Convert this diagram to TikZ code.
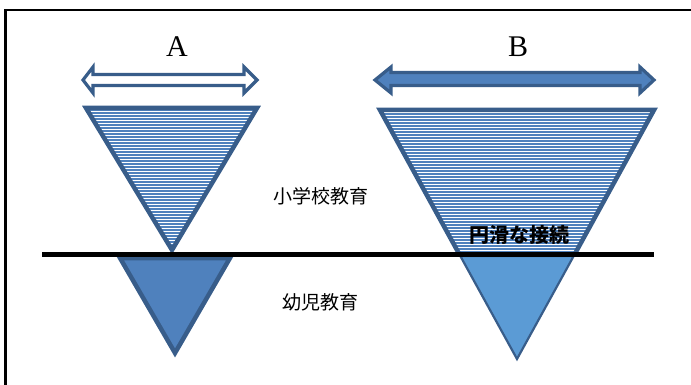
\documentclass[tikz,border=0pt]{standalone}
\usepackage{fontspec}
\setmainfont{Liberation Serif}
\newfontfamily\cjk{Noto Sans CJK JP}
\definecolor{dkblue}{HTML}{385D8A}
\definecolor{midblue}{HTML}{4F81BD}
\definecolor{ltblue}{HTML}{5B9BD5}
\begin{document}
\begin{tikzpicture}[x=1pt,y=-1pt,
  outl/.style={draw=dkblue, line width=4.5pt, line join=miter},
  thinoutl/.style={draw=dkblue, line width=2.2pt, line join=miter},
  stripe/.style={draw=midblue, line width=1.5pt},
  arrowshape/.style={draw=dkblue, line width=3.2pt, line join=miter},
  lbl/.style={inner sep=0pt, font=\fontsize{30}{32}\selectfont},
  jp/.style={inner sep=0pt, font=\cjk\fontsize{19}{21}\selectfont},
  jpb/.style={inner sep=0pt, font=\cjk\bfseries\fontsize{20}{22}\selectfont}]
\useasboundingbox (0,0) rectangle (691,385);
% frame
\coordinate (F1) at (5.5,385);
\coordinate (F2) at (5.5,10);
\coordinate (F3) at (691,10);
\draw[line width=2.5pt] (F1) -- (F2) -- (F3);
% labels
\node[lbl] (labA) at (177,47) {A};
\node[lbl] (labB) at (518,47) {B};
% arrow A (outlined)
\draw[arrowshape, fill=white] (83,80) -- (93,67) -- (93,74.5) -- (244,74.5) -- (244,67) -- (257,80) -- (244,93) -- (244,85.5) -- (93,85.5) -- (93,93) -- cycle;
% arrow B (filled)
\draw[arrowshape, fill=midblue] (375,80) -- (391,67) -- (391,72.5) -- (640,72.5) -- (640,67) -- (654,80) -- (640,93) -- (640,85.5) -- (391,85.5) -- (391,93) -- cycle;
% upper A hatched triangle
\begin{scope}
  \clip (86,108) -- (257,108) -- (172,250) -- cycle;
  \foreach \yy in {110,113,...,254} \draw[stripe] (80,\yy) -- (262,\yy);
\end{scope}
\draw[outl] (86,108) -- (257,108) -- (172,250) -- cycle;
% upper B hatched trapezoid
\begin{scope}
  \clip (459.2,254) -- (380,110) -- (654,110) -- (574.8,254) -- cycle;
  \foreach \yy in {111,114,...,254} \draw[stripe] (375,\yy) -- (660,\yy);
\end{scope}
\draw[outl] (459.2,254) -- (380,110) -- (654,110) -- (574.8,254);
% lower A triangle
\draw[outl, fill=midblue] (120,258) -- (230,258) -- (175,353) -- cycle;
% lower B triangle
\draw[thinoutl, fill=ltblue] (460.3,256) -- (573.7,256) -- (517,359) -- cycle;
% black line
\coordinate (L1) at (42,254.5);
\coordinate (L2) at (654,254.5);
\draw[line width=5pt] (L1) -- (L2);
% texts
\node[jp] (sho) at (321,196) {小学校教育};
\node[jp] (yo) at (320,302) {幼児教育};
\node[jpb] (enk) at (519,235) {円滑な接続};
\end{tikzpicture}
\end{document}
